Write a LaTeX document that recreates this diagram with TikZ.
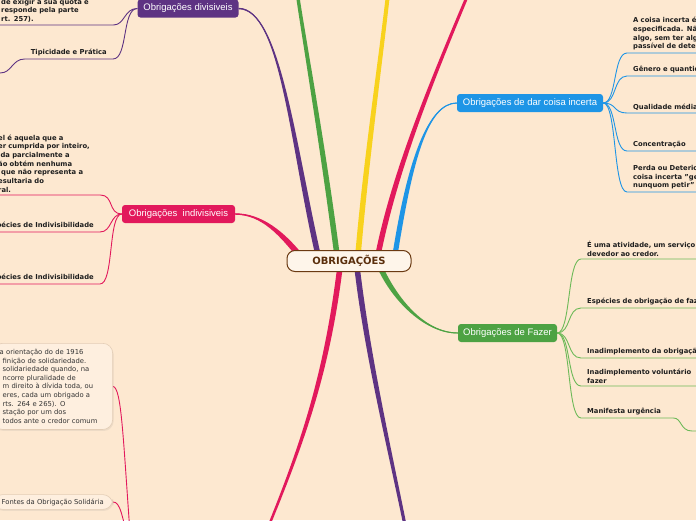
\documentclass[tikz,border=0pt]{standalone}
\usepackage{fontspec}
\setmainfont{DejaVu Sans}
\newfontfamily\libsans{Liberation Sans}
\usetikzlibrary{calc,shadows}
\pgfdeclarelayer{bgl}
\pgfdeclarelayer{edges}
\pgfsetlayers{bgl,edges,main}
\definecolor{bgc}{HTML}{FDE8D0}
\definecolor{purp}{HTML}{5E3383}
\definecolor{grnb}{HTML}{4DA243}
\definecolor{grnl}{HTML}{6DB958}
\definecolor{yel}{HTML}{F8D21D}
\definecolor{pnk}{HTML}{E2195C}
\definecolor{blu}{HTML}{1E95E6}
\definecolor{brn}{HTML}{6B3A12}
\definecolor{brntx}{HTML}{5A2E0C}
\definecolor{cream}{HTML}{FEF5EA}
\definecolor{ink}{HTML}{1E1E1E}
\definecolor{ink2}{HTML}{333333}
\definecolor{boxf}{HTML}{FEEFDF}
\definecolor{boxd}{HTML}{E3CDB6}
\newcommand\taper[7]{%
  \fill[#1] ($(#2)+(#6)$) .. controls ($(#3)+(#6)$) and ($(#4)+(#7)$) .. ($(#5)+(#7)$)
    -- ($(#5)-(#7)$) .. controls ($(#4)-(#7)$) and ($(#3)-(#6)$) .. ($(#2)-(#6)$) -- cycle;
  \draw[#1, line width=0.9pt] (#2) .. controls (#3) and (#4) .. (#5);}
\begin{document}
\begin{tikzpicture}[x=1pt,y=-1pt,
  topic/.style={rounded corners=3pt, text=white, font=\libsans\fontsize{9.5}{11}\selectfont, inner xsep=5pt, inner ysep=0pt, minimum height=18pt},
  leaf/.style={font=\bfseries\fontsize{6.8}{8.7}\selectfont, text=ink, align=left, inner xsep=6pt, inner ysep=2.5pt},
  notebox/.style={font=\fontsize{6.8}{8.6}\selectfont, text=ink2, align=left, fill=boxf, draw=boxd, line width=0.6pt, rounded corners=10pt, drop shadow={opacity=0.12, shadow xshift=1pt, shadow yshift=-1.5pt}},
  fine/.style={line width=0.9pt},
  lnP/.style={fine, draw=purp}, lnK/.style={fine, draw=pnk}, lnB/.style={fine, draw=blu}, lnG/.style={fine, draw=grnl}]
\useasboundingbox (0,0) rectangle (696,520);
\begin{pgfonlayer}{bgl}\fill[bgc] (0,0) rectangle (696,520);\end{pgfonlayer}

% central node
\node[draw=brn, line width=1pt, fill=cream, rounded corners=8pt, minimum width=124pt, minimum height=21pt, text=brntx, font=\bfseries\fontsize{10}{12}\selectfont] (c) at (349,261) {OBRIGAÇÕES};

% topic nodes
\node[topic, fill=purp, minimum width=101pt] (div) at (188,8.5) {Obrigações divisiveis};
\node[topic, fill=pnk, minimum width=113pt] (ind) at (178.5,214) {Obrigações~~indivisiveis};
\node[topic, fill=blu, minimum width=146pt] (inc) at (530,103) {Obrigações de dar coisa incerta};
\node[topic, fill=grnb, minimum width=99pt] (faz) at (507.5,333) {Obrigações de Fazer};

% children of divisiveis
\node[leaf, anchor=south west, text width=106pt] (d1) at (-5,25) {de exigir a sua quota e\\responde pela parte\\rt. 257).};
\node[leaf, anchor=south east] (d2) at (113,59) {Tipicidade e Prática};
\coordinate (dx) at (0,73);

% children of indivisiveis
\node[leaf, anchor=south west, text width=96pt] (i1) at (-8,195) {el é aquela que a\\er cumprida por inteiro,\\ida parcialmente a\\ão obtém nenhuma\\\hspace*{3pt}que não representa a\\esultaria do\\ral.};
\node[leaf, anchor=south east] (i2) at (100,232) {Espécies de Indivisibilidade};
\node[leaf, anchor=south east] (i3) at (100,284) {Espécies de Indivisibilidade};

% bottom-left notes
\node[notebox, anchor=north east, text width=106pt, inner xsep=7pt, inner ysep=6pt] (s1) at (113,343) {a orientação do de 1916\\\hspace*{3pt}finição de solidariedade.\\\hspace*{3pt}solidariedade quando, na\\\hspace*{3pt}ncorre pluralidade de\\\hspace*{3pt}m direito à dívida toda, ou\\\hspace*{3pt}eres, cada um obrigado a\\\hspace*{3pt}rts. 264 e 265). O\\\hspace*{3pt}stação por um dos\\\hspace*{3pt}todos ante o credor comum};
\node[notebox, anchor=east, inner xsep=9pt, inner ysep=4pt] (s2) at (113,502) {Fontes da Obrigação Solidária};
\coordinate (sp) at (132,560);

% children of dar coisa incerta
\node[leaf, anchor=south west, text width=200pt] (b1) at (627,53) {A coisa incerta é\\especificada. Não\\algo, sem ter algum\\passível de determinação};
\node[leaf, anchor=south west, text width=200pt] (b2) at (627,76) {Gênero e quantidade};
\node[leaf, anchor=south west, text width=200pt] (b3) at (627,113) {Qualidade média};
\node[leaf, anchor=south west, text width=200pt] (b4) at (627,151) {Concentração};
\node[leaf, anchor=south west, text width=200pt] (b5) at (627,192) {Perda ou Deterioração da\\coisa incerta "genus\\nunquom petir"};

% children of fazer
\node[leaf, anchor=south west, text width=200pt] (g1) at (581,259) {É uma atividade, um serviço\\devedor ao credor.};
\node[leaf, anchor=south west, text width=200pt] (g2) at (581,308) {Espécies de obrigação de fazer};
\node[leaf, anchor=south west, text width=200pt] (g3) at (581,358) {Inadimplemento da obrigação de fazer};
\node[leaf, anchor=south west, text width=200pt] (g4) at (581,386) {Inadimplemento voluntário\\fazer};
\node[leaf, anchor=south west, text width=80pt] (g5) at (581,418) {Manifesta urgência};
\coordinate (gx) at (692,431);

% branch roots and free ends
\path (c.north) ++(-31,5) coordinate (rP) ++(19,0) coordinate (rG) ++(21,0) coordinate (rY) ++(20,0) coordinate (rR) ++(17,0) coordinate (rB);
\path (c.north) ++(-49,6) coordinate (rL);
\path (c.south) ++(31,-5) coordinate (rF);
\path (c.south) ++(-9,-5) coordinate (rK);
\path (c.south) ++(8,-5) coordinate (rV);
\coordinate (eG) at (296,-15);
\coordinate (eY) at (389,-15);
\coordinate (eR) at (472,-15);
\coordinate (eK) at (263,540);
\coordinate (eV) at (409,545);

\begin{pgfonlayer}{edges}
% main tapered branches
\taper{purp}{rP}{292,140}{280,9}{div.east}{2.8,0}{0,-0.7}
\taper{grnb}{rG}{322,140}{304,40}{eG}{2.8,0}{1.7,0}
\taper{yel}{rY}{366,160}{382,50}{eY}{2.8,0}{2,0}
\taper{pnk}{rR}{395,170}{432,80}{eR}{2.8,0}{1.6,0}
\taper{blu}{rB}{410,160}{428,103}{inc.west}{2.6,0}{0,0.5}
\taper{pnk}{rL}{282,234}{262,214}{ind.east}{2.1,-2.1}{0,-0.7}
\taper{grnb}{rF}{395,300}{425,333}{faz.west}{-2.5,1.1}{0,0.5}
\taper{pnk}{rK}{326,380}{300,450}{eK}{2.8,0}{1.3,0}
\taper{purp}{rV}{368,360}{390,450}{eV}{2.8,0}{1.6,0}

% divisiveis connectors
\draw[lnP] (div.west) .. controls (124,8.5) and (125,25) .. (d1.south east) -- (d1.south west);
\draw[lnP] (div.west) .. controls (122,8.5) and (128,59) .. (d2.south east) -- (d2.south west) .. controls (12,59) and (12,73) .. (dx) -- ++(-10,0);

% indivisiveis connectors
\draw[lnK] (ind.west) .. controls (108,214) and (114,195) .. (i1.south east) -- (i1.south west);
\draw[lnK] (ind.west) .. controls (110,214) and (112,232) .. (i2.south east) -- (i2.south west);
\draw[lnK] (ind.west) .. controls (108,214) and (114,284) .. (i3.south east) -- (i3.south west);

% notes connectors
\draw[lnK] (s1.east) .. controls (122,388) and (123,440) .. (sp);
\draw[lnK] (s2.east) .. controls (120,502) and (122,512) .. (sp);

% dar coisa incerta connectors
\foreach \n in {b1,b2,b3,b4,b5}{
  \draw[lnB] (inc.east) .. controls (617,103) and (613,0 |- \n.south west) .. (\n.south west) -- (\n.south east);
}

% fazer connectors
\foreach \n in {g1,g2,g3,g4}{
  \draw[lnG] (faz.east) .. controls (571,333) and (567,0 |- \n.south west) .. (\n.south west) -- (\n.south east);
}
\draw[lnG] (faz.east) .. controls (571,333) and (567,418) .. (g5.south west) -- (g5.south east) .. controls (682,418) and (680,431) .. (gx) -- ++(10,0);
\end{pgfonlayer}
\end{tikzpicture}
\end{document}
